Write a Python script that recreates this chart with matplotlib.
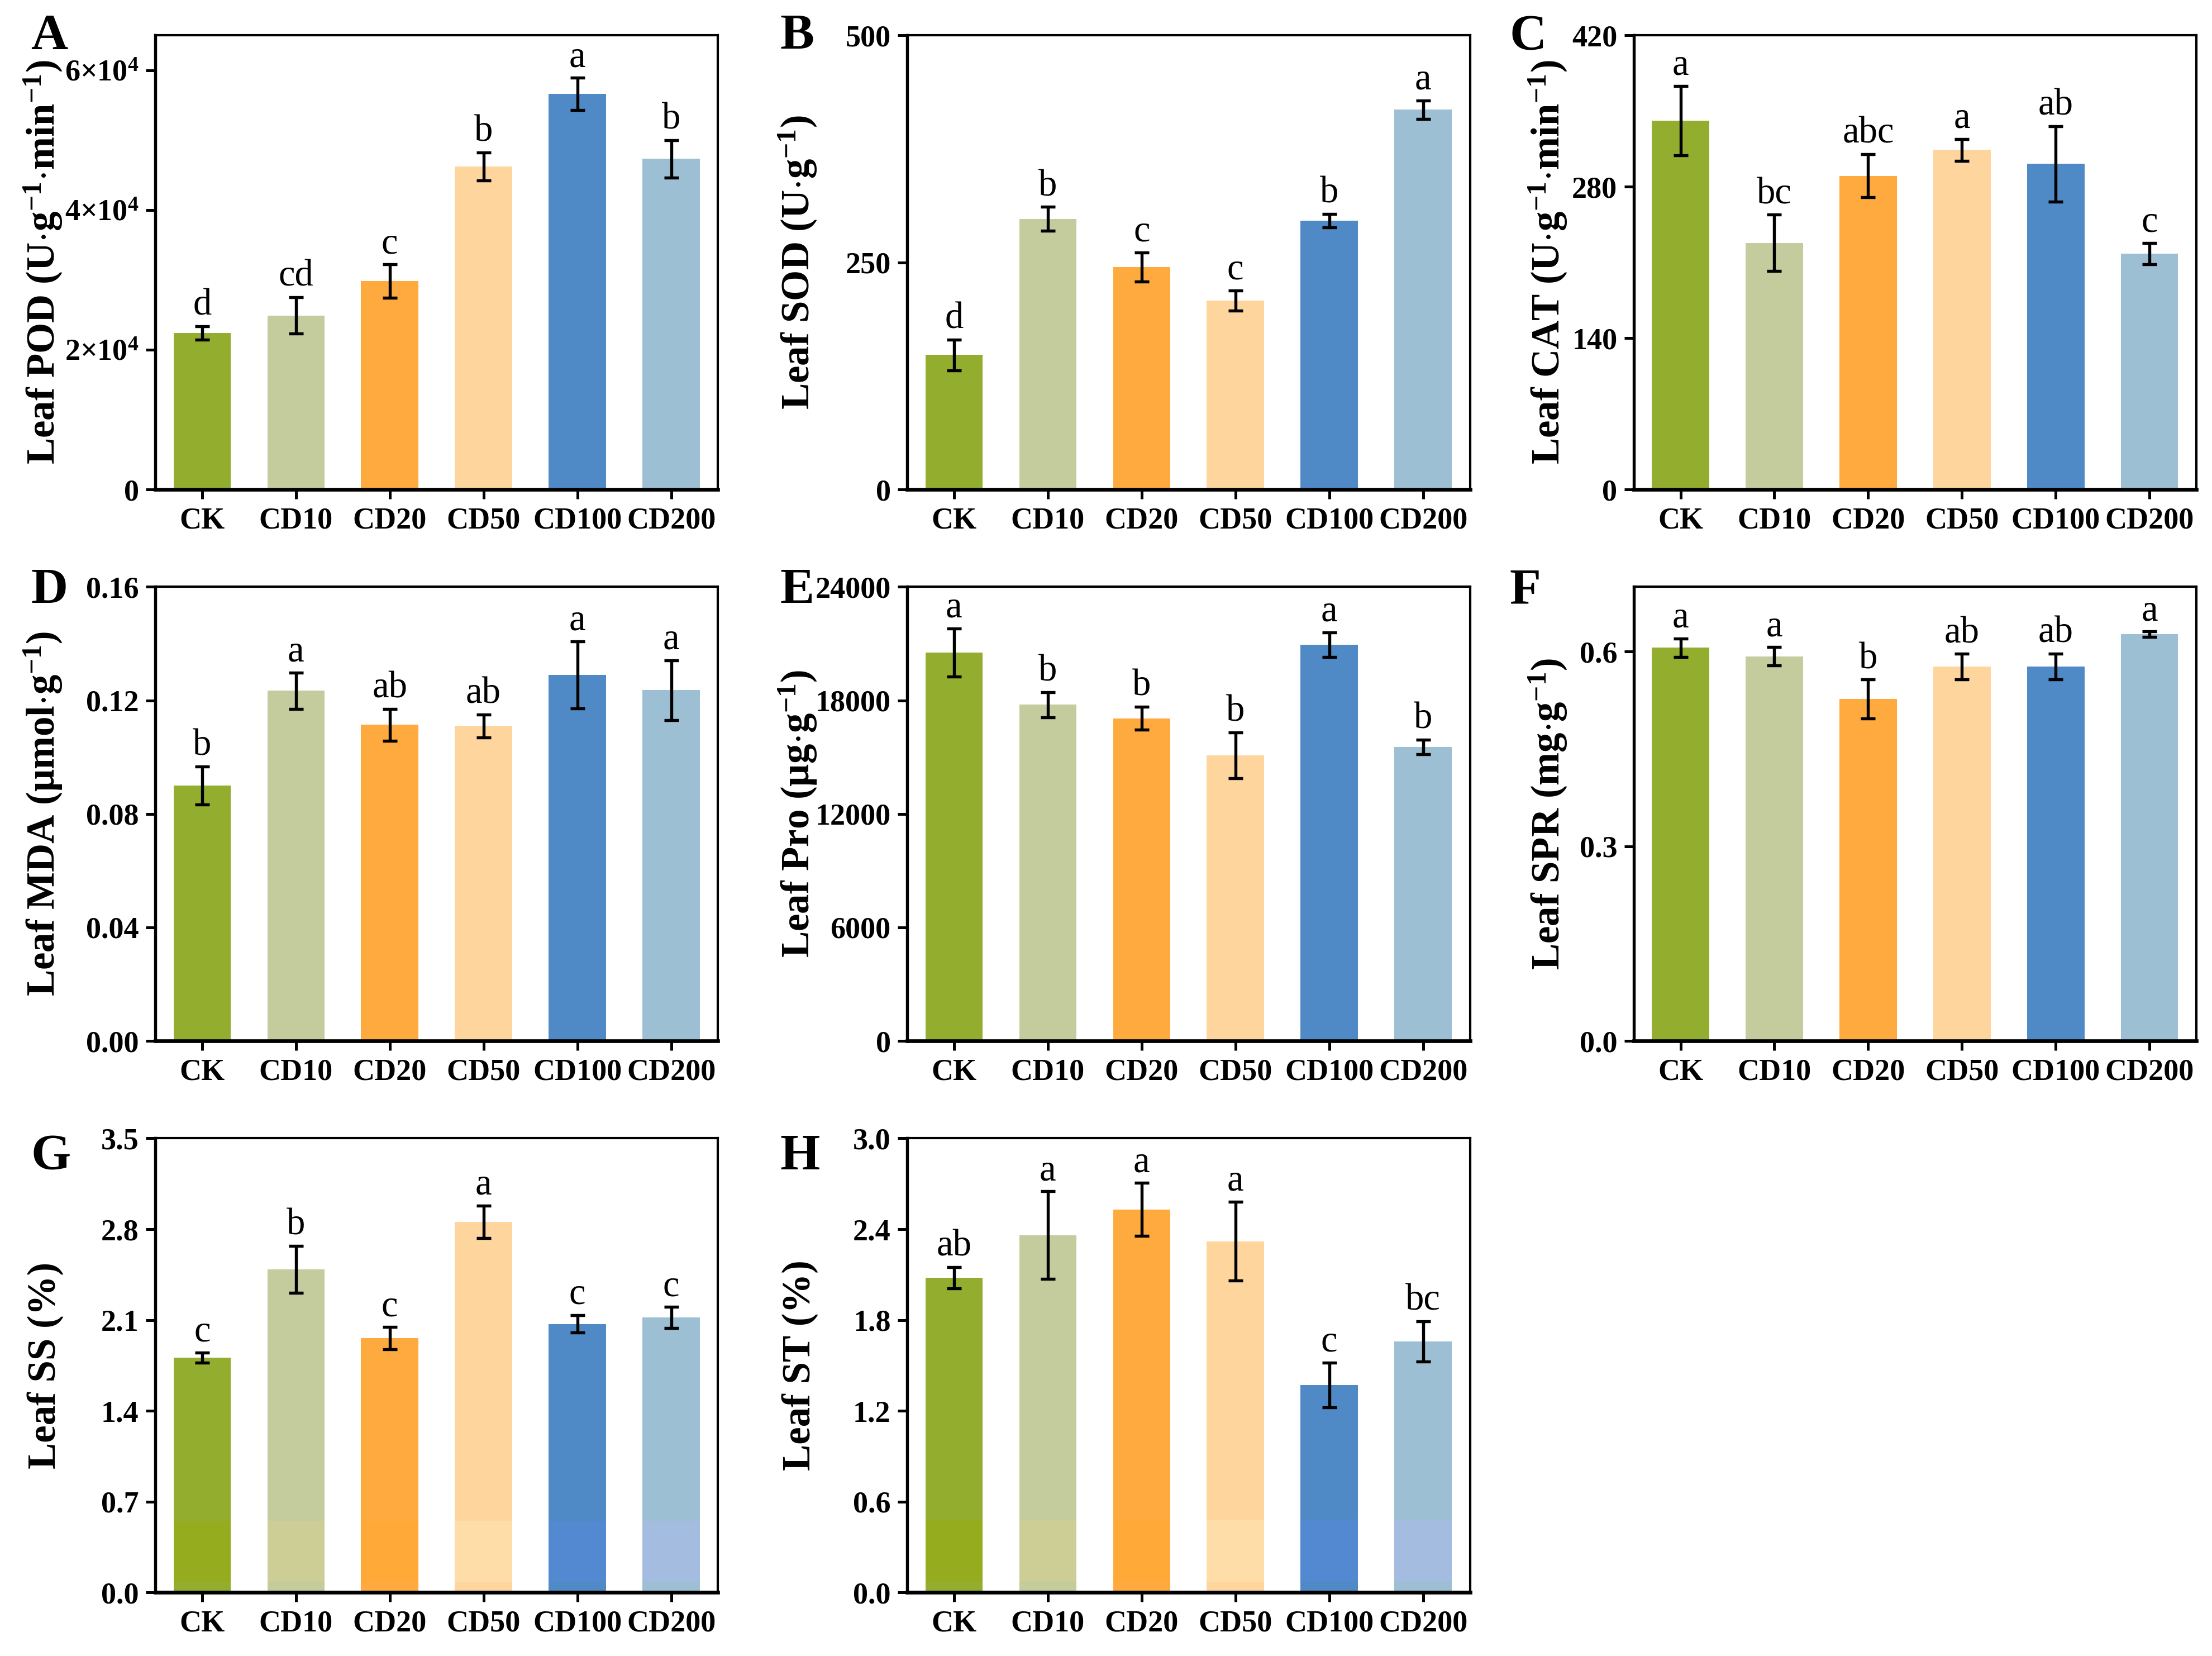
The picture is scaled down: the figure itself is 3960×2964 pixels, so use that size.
import matplotlib
matplotlib.use("Agg")
import matplotlib.pyplot as plt
import numpy as np

plt.rcParams['font.family'] = ['Liberation Serif', 'DejaVu Serif']
plt.rcParams['font.weight'] = 'bold'
plt.rcParams['mathtext.fontset'] = 'custom'
plt.rcParams['mathtext.rm'] = 'Liberation Serif:bold'
plt.rcParams['mathtext.it'] = 'Liberation Serif:bold'
plt.rcParams['mathtext.bf'] = 'Liberation Serif:bold'
plt.rcParams['mathtext.default'] = 'rm'

categories = ["CK", "CD10", "CD20", "CD50", "CD100", "CD200"]

# ---- data ----
pod_mean = [22400, 24900, 29800, 46200, 56600, 47300]
pod_err = [950, 2600, 2400, 2000, 2300, 2700]
pod_sig = ["d", "cd", "c", "b", "a", "b"]

sod_mean = [148, 298, 245, 208, 296, 418]
sod_err = [17, 13, 16, 11, 7.5, 10]
sod_sig = ["d", "b", "c", "c", "b", "a"]

cat_mean = [341, 228, 290, 314, 301, 218]
cat_err = [32, 26, 20, 10, 35, 10]
cat_sig = ["a", "bc", "abc", "a", "ab", "c"]

mda_mean = [0.0900, 0.1234, 0.1114, 0.1110, 0.1290, 0.1236]
mda_err = [0.0067, 0.0064, 0.0056, 0.0040, 0.0118, 0.0105]
mda_sig = ["b", "a", "ab", "ab", "a", "a"]

pro_mean = [20530, 17770, 17050, 15090, 20940, 15540]
pro_err = [1265, 660, 613, 1210, 650, 390]
pro_sig = ["a", "b", "b", "b", "a", "b"]

spr_mean = [0.606, 0.593, 0.527, 0.577, 0.577, 0.627]
spr_err = [0.0145, 0.014, 0.030, 0.0195, 0.020, 0.004]
spr_sig = ["a", "a", "b", "ab", "ab", "a"]

ss_mean = [1.81, 2.49, 1.96, 2.855, 2.07, 2.12]
ss_err = [0.04, 0.18, 0.085, 0.125, 0.068, 0.08]
ss_sig = ["c", "b", "c", "a", "c", "c"]

st_mean = [2.08, 2.36, 2.53, 2.32, 1.37, 1.66]
st_err = [0.07, 0.29, 0.175, 0.26, 0.148, 0.133]
st_sig = ["ab", "a", "a", "a", "c", "bc"]

ylabels = [
    r"Leaf POD (U$\cdot$g$^{-1}$$\cdot$min$^{-1}$)",
    r"Leaf SOD (U$\cdot$g$^{-1}$)",
    r"Leaf CAT (U$\cdot$g$^{-1}$$\cdot$min$^{-1}$)",
    r"Leaf MDA ($\mu$mol$\cdot$g$^{-1}$)",
    r"Leaf Pro ($\mu$g$\cdot$g$^{-1}$)",
    r"Leaf SPR (mg$\cdot$g$^{-1}$)",
    "Leaf SS (%)",
    "Leaf ST (%)",
]
panel_letters = ["A", "B", "C", "D", "E", "F", "G", "H"]

yticks = [
    [0, 20000, 40000, 60000],
    [0, 250, 500],
    [0, 140, 280, 420],
    [0.00, 0.04, 0.08, 0.12, 0.16],
    [0, 6000, 12000, 18000, 24000],
    [0.0, 0.3, 0.6],
    [0.0, 0.7, 1.4, 2.1, 2.8, 3.5],
    [0.0, 0.6, 1.2, 1.8, 2.4, 3.0],
]
yticklabels = [
    ["0", r"2$\times$10$^{4}$", r"4$\times$10$^{4}$", r"6$\times$10$^{4}$"],
    ["0", "250", "500"],
    ["0", "140", "280", "420"],
    ["0.00", "0.04", "0.08", "0.12", "0.16"],
    ["0", "6000", "12000", "18000", "24000"],
    ["0.0", "0.3", "0.6"],
    ["0.0", "0.7", "1.4", "2.1", "2.8", "3.5"],
    ["0.0", "0.6", "1.2", "1.8", "2.4", "3.0"],
]
ylims = [65000, 500, 420, 0.16, 24000, 0.70, 3.5, 3.0]

means = [pod_mean, sod_mean, cat_mean, mda_mean, pro_mean, spr_mean, ss_mean, st_mean]
errs = [pod_err, sod_err, cat_err, mda_err, pro_err, spr_err, ss_err, st_err]
sigs = [pod_sig, sod_sig, cat_sig, mda_sig, pro_sig, spr_sig, ss_sig, st_sig]

colors = ["#93AD2E", "#C4CC9E", "#FFAA3E", "#FFD59E", "#4F8AC6", "#9DBFD3"]
band_colors = ["#95AC1E", "#CDCE96", "#FFAA38", "#FFDDA8", "#5289D0", "#A4BCE0"]
# lower tinted band visible in panels G and H (value range of the band)
band_range = {6: (0.08, 0.55), 7: (0.07, 0.48)}

# ---- layout ----
W, H = 1568.0, 1174.0
col_left = [110, 643, 1158]
col_w = 399
row_top = [25, 416, 807]
row_h = 322
label_x = [-0.163, -0.158, -0.116]
letter_pos = [(22, 10), (553, 10), (1070, 10),
              (22, 403), (553, 403), (1070, 403),
              (22, 804), (553, 804)]

fig = plt.figure(figsize=(13.2, 9.88), dpi=300)

x = np.arange(len(categories))
for i in range(8):
    r, c = divmod(i, 3)
    ax = fig.add_axes([col_left[c] / W, 1 - (row_top[r] + row_h) / H, col_w / W, row_h / H])
    ax.bar(x, means[i], width=0.61, color=colors, edgecolor='none', zorder=2)
    if i in band_range:
        lo, hi = band_range[i]
        ax.bar(x, [hi - lo] * len(x), bottom=lo, width=0.61, color=band_colors,
               edgecolor='none', zorder=2.1)
    ax.errorbar(x, means[i], yerr=errs[i], fmt='none', ecolor='black',
                elinewidth=1.3, capsize=3.2, capthick=1.3, zorder=3)
    for xi, m, e, s in zip(x, means[i], errs[i], sigs[i]):
        ax.annotate(s, (xi, m + e), xytext=(0, 1.5), textcoords='offset points',
                    ha='center', va='bottom', fontsize=16, fontweight='normal',
                    family='Liberation Serif')
    ax.set_xlim(-0.5, 5.5)
    ax.set_ylim(0, ylims[i])
    ax.set_xticks(x)
    ax.set_xticklabels(categories, fontsize=13, fontweight='bold')
    ax.set_yticks(yticks[i])
    ax.set_yticklabels(yticklabels[i], fontsize=13, fontweight='bold')
    ax.tick_params(axis='both', direction='out', length=4, width=1.2, pad=3)
    ax.tick_params(axis='x', pad=3.5)
    for sp in ax.spines.values():
        sp.set_linewidth(1.0)
    ax.spines['bottom'].set_linewidth(1.6)
    ax.spines['left'].set_linewidth(1.3)
    ax.set_ylabel(ylabels[i], fontsize=17, fontweight='bold')
    ax.yaxis.set_label_coords(label_x[c], 0.5)
    lx, ly = letter_pos[i]
    fig.text(lx / W, 1 - ly / H, panel_letters[i], fontsize=22, fontweight='bold',
             ha='left', va='top')

fig.savefig("out.png", dpi=300)
